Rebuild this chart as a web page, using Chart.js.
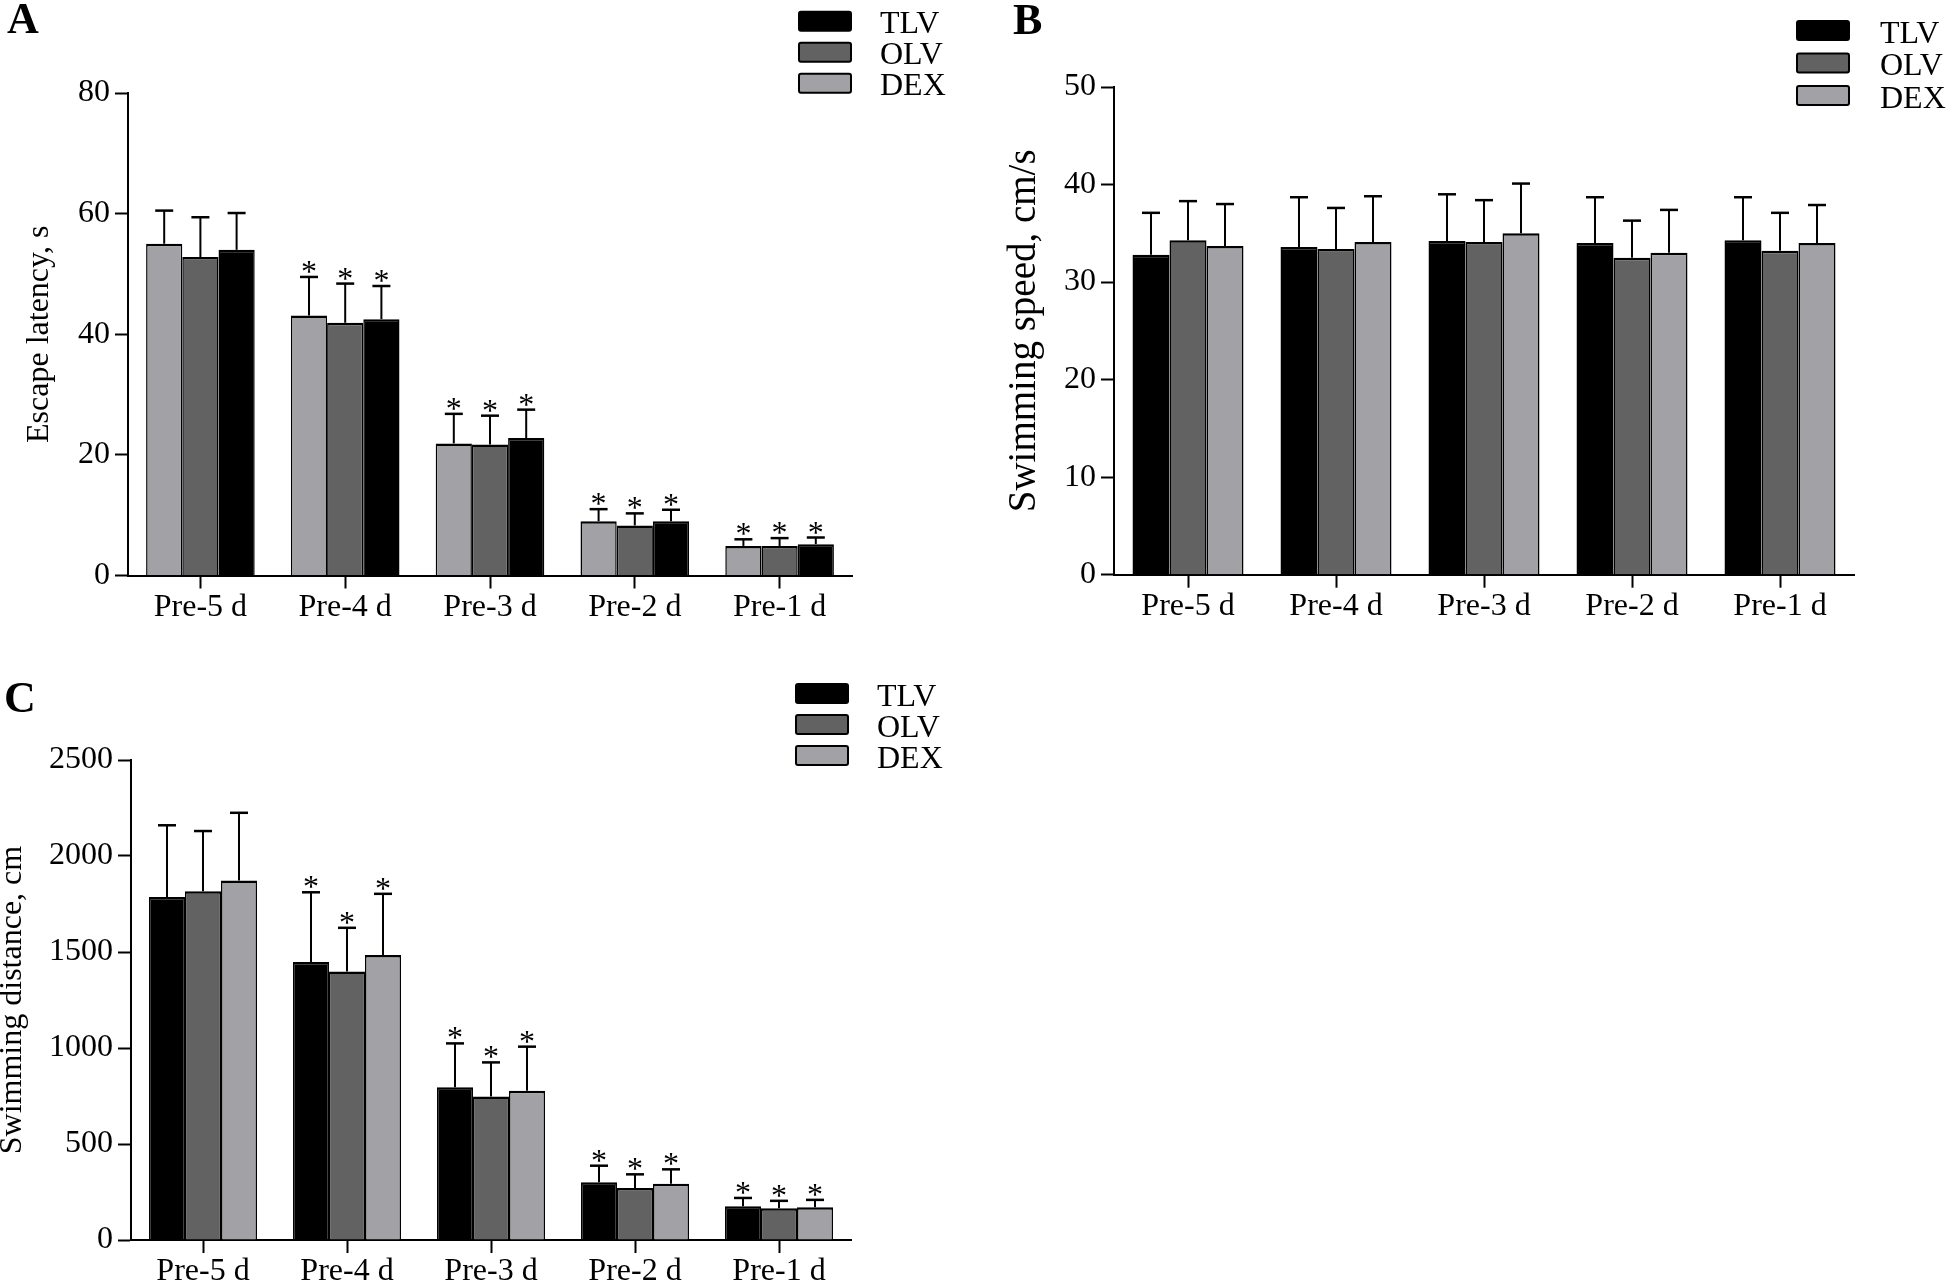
<!DOCTYPE html>
<html>
<head>
<meta charset="utf-8">
<title>Escape latency, swimming speed and swimming distance</title>
<script src="https://cdn.jsdelivr.net/npm/chart.js@4.4.0/dist/chart.umd.min.js"></script>
<style>
  body { margin: 0; background: #fff; }
  #wrap { position: relative; width: 1952px; height: 1284px; overflow: hidden; }
  canvas { position: absolute; }
</style>
</head>
<body>
<div id="wrap">
  <canvas id="chartA" width="976" height="642" style="left:0;top:0"></canvas>
  <canvas id="chartB" width="976" height="642" style="left:976px;top:0"></canvas>
  <canvas id="chartC" width="976" height="642" style="left:0;top:642px"></canvas>
</div>
<script>
const serif = "'Liberation Serif', 'Times New Roman', serif"

const days = ['Pre-5 d', 'Pre-4 d', 'Pre-3 d', 'Pre-2 d', 'Pre-1 d']
const groups = ['TLV', 'OLV', 'DEX']
const colors = { TLV: '#000000', OLV: '#626262', DEX: '#a2a1a6' }

// A: escape latency, s (in this panel the bars run light, dark, black)
const latencyDex = [55.0, 43.1, 21.9, 9.0, 4.9]
const latencyDexSd = [5.5, 6.4, 4.9, 2.0, 1.1]
const latencyOlv = [52.8, 41.9, 21.7, 8.3, 4.9]
const latencyOlvSd = [6.6, 6.5, 4.8, 2.0, 1.3]
const latencyTlv = [54.0, 42.5, 22.8, 9.0, 5.2]
const latencyTlvSd = [6.1, 5.5, 4.7, 1.9, 1.1]
const latencyTicks = [0, 20, 40, 60, 80]
const latencyStars = [false, true, true, true, true]

// B: swimming speed, cm/s
const speedTlv = [32.8, 33.6, 34.2, 34.0, 34.3]
const speedTlvSd = [4.3, 5.1, 4.8, 4.7, 4.4]
const speedOlv = [34.3, 33.4, 34.1, 32.5, 33.2]
const speedOlvSd = [4.0, 4.2, 4.3, 3.8, 3.9]
const speedDex = [33.7, 34.1, 35.0, 33.0, 34.0]
const speedDexSd = [4.3, 4.7, 5.1, 4.4, 3.9]
const speedTicks = [0, 10, 20, 30, 40, 50]
const speedStars = [false, false, false, false, false]

// C: swimming distance, cm
const distTlv = [1786, 1448, 796, 301, 176]
const distTlvSd = [374, 363, 228, 86, 43]
const distOlv = [1816, 1398, 747, 271, 166]
const distOlvSd = [314, 228, 178, 71, 38]
const distDex = [1872, 1484, 777, 293, 170]
const distDexSd = [353, 319, 230, 75, 39]
const distTicks = [0, 500, 1000, 1500, 2000, 2500]
const distStars = [false, true, true, true, true]

// upper error bar + cap, with an asterisk over it when marked
const errorBars = {
  id: 'errorBars',
  afterDatasetsDraw(chart, args, opts) {
    const ctx = chart.ctx
    const y = chart.scales.y
    chart.data.datasets.forEach((ds, i) => {
      chart.getDatasetMeta(i).data.forEach((bar, j) => {
        const top = y.getPixelForValue(ds.data[j] + ds.sd[j])
        ctx.save()
        ctx.strokeStyle = '#000'
        ctx.lineWidth = 2
        ctx.beginPath()
        ctx.moveTo(bar.x, bar.y)
        ctx.lineTo(bar.x, top)
        ctx.stroke()
        ctx.lineWidth = 2.5
        ctx.beginPath()
        ctx.moveTo(bar.x - 9, top)
        ctx.lineTo(bar.x + 9, top)
        ctx.stroke()
        if (opts.stars[j]) {
          ctx.fillStyle = '#000'
          ctx.font = '32px ' + serif
          ctx.textAlign = 'center'
          ctx.textBaseline = 'alphabetic'
          ctx.fillText('*', bar.x, top + 5)
        }
        ctx.restore()
      })
    })
  }
}

// panel letter and the stacked legend in the top right
const panelLegend = {
  id: 'panelLegend',
  afterDraw(chart, args, o) {
    const ctx = chart.ctx
    ctx.save()
    ctx.fillStyle = '#000'
    ctx.textAlign = 'left'
    ctx.textBaseline = 'alphabetic'
    ctx.font = 'bold 44px ' + serif
    ctx.fillText(o.letter, o.letterX, o.letterY)
    ctx.font = '32px ' + serif
    groups.forEach((g, i) => {
      const y = o.y + i * o.gap
      ctx.fillStyle = colors[g]
      ctx.strokeStyle = '#000'
      ctx.lineWidth = 2
      ctx.beginPath()
      ctx.roundRect(o.x + 1, y + 1, 52, 19, 2)
      ctx.fill()
      ctx.stroke()
      ctx.fillStyle = '#000'
      ctx.fillText(g, o.textX, y + 22.5)
    })
    ctx.restore()
  }
}

const makeChart = (id, cfg) => {
  const datasets = cfg.series.map((s) => ({
    label: s.label,
    data: s.data,
    sd: s.sd,
    backgroundColor: colors[s.label],
    borderColor: '#000',
    borderWidth: { top: 2.5, left: 1.5, right: 1.5, bottom: 0 },
    borderSkipped: 'start',
    categoryPercentage: 0.75,
    barPercentage: 1
  }))

  new Chart(document.getElementById(id), {
    type: 'bar',
    data: { labels: days, datasets: datasets },
    options: {
      responsive: false,
      animation: false,
      devicePixelRatio: 1,
      layout: { padding: cfg.padding },
      plugins: {
        legend: { display: false },
        tooltip: { enabled: false },
        errorBars: { stars: cfg.stars },
        panelLegend: cfg.legend
      },
      scales: {
        x: {
          grid: { offset: false, drawOnChartArea: false, drawTicks: true, tickLength: 13, tickWidth: 2, tickColor: '#000' },
          border: { display: true, color: '#000', width: 2 },
          ticks: { color: '#000', padding: 3, maxRotation: 0, autoSkip: false, font: { family: serif, size: 32, lineHeight: 1 } },
          afterFit: (scale) => { scale.height = cfg.xHeight }
        },
        y: {
          min: cfg.ticks[0],
          max: cfg.ticks[cfg.ticks.length - 1],
          grid: { drawOnChartArea: false, drawTicks: true, tickLength: 13, tickWidth: 2, tickColor: '#000' },
          border: { display: true, color: '#000', width: 2 },
          ticks: { color: '#000', padding: 5, font: { family: serif, size: 32 }, callback: (v) => String(v) },
          afterBuildTicks: (scale) => { scale.ticks = cfg.ticks.map((v) => ({ value: v })) },
          title: {
            display: true,
            text: cfg.yTitle,
            color: '#000',
            font: { family: serif, size: cfg.titleSize, lineHeight: 1 },
            padding: { top: cfg.titlePad, bottom: 0 }
          },
          afterFit: (scale) => { scale.width = cfg.yWidth }
        }
      }
    },
    plugins: [errorBars, panelLegend]
  })
}

makeChart('chartA', {
  series: [
    { label: 'DEX', data: latencyDex, sd: latencyDexSd },
    { label: 'OLV', data: latencyOlv, sd: latencyOlvSd },
    { label: 'TLV', data: latencyTlv, sd: latencyTlvSd }
  ],
  ticks: latencyTicks,
  stars: latencyStars,
  yTitle: 'Escape latency, s',
  titleSize: 32,
  titlePad: 24,
  yWidth: 128,
  xHeight: 60,
  padding: { left: 0, top: 93, right: 124, bottom: 6.5 },
  legend: { letter: 'A', letterX: 7, letterY: 33, x: 798, y: 10.7, gap: 31, textX: 880 }
})

makeChart('chartB', {
  series: [
    { label: 'TLV', data: speedTlv, sd: speedTlvSd },
    { label: 'OLV', data: speedOlv, sd: speedOlvSd },
    { label: 'DEX', data: speedDex, sd: speedDexSd }
  ],
  ticks: speedTicks,
  stars: speedStars,
  yTitle: 'Swimming speed, cm/s',
  titleSize: 39,
  titlePad: 29,
  yWidth: 138,
  xHeight: 60,
  padding: { left: 0, top: 87, right: 98, bottom: 7.3 },
  legend: { letter: 'B', letterX: 37, letterY: 34, x: 820, y: 20, gap: 32.5, textX: 904 }
})

makeChart('chartC', {
  series: [
    { label: 'TLV', data: distTlv, sd: distTlvSd },
    { label: 'OLV', data: distOlv, sd: distOlvSd },
    { label: 'DEX', data: distDex, sd: distDexSd }
  ],
  ticks: distTicks,
  stars: distStars,
  yTitle: 'Swimming distance, cm',
  titleSize: 32,
  titlePad: -3,
  yWidth: 131,
  xHeight: 44,
  padding: { left: 0, top: 118, right: 125, bottom: 0 },
  legend: { letter: 'C', letterX: 4, letterY: 70, x: 795, y: 41, gap: 31, textX: 877 }
})
</script>
</body>
</html>
